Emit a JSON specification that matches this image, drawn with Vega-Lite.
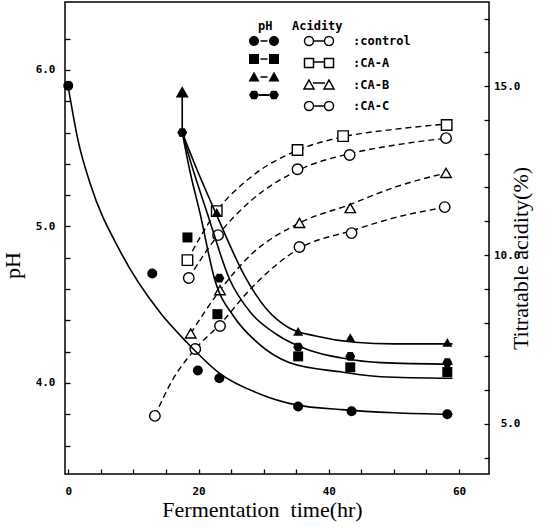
{
  "$schema": "https://vega.github.io/schema/vega-lite/v6.json",
  "autosize": {"type": "none"},
  "width": 424,
  "height": 472,
  "padding": {"left": 65, "top": 2, "right": 57, "bottom": 53},
  "background": "white",
  "config": {
    "view": {"stroke": "black", "strokeWidth": 1.5},
    "axis": {
      "grid": false, "domain": false, "offset": -5, "tickSize": 5,
      "tickColor": "black", "tickWidth": 1.3,
      "labelColor": "black", "labelFont": "DejaVu Sans Mono", "labelFontWeight": "bold", "labelFontSize": 11,
      "titleColor": "black", "titleFont": "Liberation Serif", "titleFontWeight": "normal", "titleFontSize": 22
    },
    "legend": {
      "titleFont": "DejaVu Sans Mono", "titleFontWeight": "bold", "titleFontSize": 12, "titleColor": "black",
      "labelFont": "DejaVu Sans Mono", "labelFontWeight": "bold", "labelFontSize": 12, "labelColor": "black",
      "padding": 0, "rowPadding": 6, "titlePadding": 2, "symbolSize": 100
    }
  },
  "datasets": {
    "phpts": [
      {"t": 0, "ph": 5.9, "s": "control"},
      {"t": 12.9, "ph": 4.70, "s": "control"},
      {"t": 19.9, "ph": 4.08, "s": "control"},
      {"t": 23.2, "ph": 4.03, "s": "control"},
      {"t": 35.3, "ph": 3.85, "s": "control"},
      {"t": 43.5, "ph": 3.82, "s": "control"},
      {"t": 58.2, "ph": 3.80, "s": "control"},
      {"t": 18.3, "ph": 4.93, "s": "CA-A"},
      {"t": 22.9, "ph": 4.44, "s": "CA-A"},
      {"t": 35.3, "ph": 4.17, "s": "CA-A"},
      {"t": 43.3, "ph": 4.10, "s": "CA-A"},
      {"t": 58.2, "ph": 4.07, "s": "CA-A"},
      {"t": 22.8, "ph": 5.09, "s": "CA-B"},
      {"t": 35.3, "ph": 4.33, "s": "CA-B"},
      {"t": 43.3, "ph": 4.29, "s": "CA-B"},
      {"t": 58.2, "ph": 4.26, "s": "CA-B"},
      {"t": 17.5, "ph": 5.60, "s": "CA-C"},
      {"t": 23.2, "ph": 4.67, "s": "CA-C"},
      {"t": 35.3, "ph": 4.23, "s": "CA-C"},
      {"t": 43.3, "ph": 4.17, "s": "CA-C"},
      {"t": 58.2, "ph": 4.13, "s": "CA-C"}
    ],
    "phcurves": [
      {"t": 0, "ph": 5.89, "s": "control"},
      {"t": 1.5, "ph": 5.55, "s": "control"},
      {"t": 3.4, "ph": 5.27, "s": "control"},
      {"t": 8, "ph": 4.84, "s": "control"},
      {"t": 14.1, "ph": 4.45, "s": "control"},
      {"t": 18.2, "ph": 4.26, "s": "control"},
      {"t": 23.3, "ph": 4.06, "s": "control"},
      {"t": 29.4, "ph": 3.93, "s": "control"},
      {"t": 35, "ph": 3.86, "s": "control"},
      {"t": 42, "ph": 3.83, "s": "control"},
      {"t": 50, "ph": 3.81, "s": "control"},
      {"t": 59, "ph": 3.80, "s": "control"},
      {"t": 17.5, "ph": 5.60, "s": "CA-A"},
      {"t": 18.7, "ph": 5.35, "s": "CA-A"},
      {"t": 20.2, "ph": 5.09, "s": "CA-A"},
      {"t": 22.5, "ph": 4.66, "s": "CA-A"},
      {"t": 25.5, "ph": 4.42, "s": "CA-A"},
      {"t": 29, "ph": 4.26, "s": "CA-A"},
      {"t": 34, "ph": 4.13, "s": "CA-A"},
      {"t": 42, "ph": 4.07, "s": "CA-A"},
      {"t": 48, "ph": 4.04, "s": "CA-A"},
      {"t": 59, "ph": 4.03, "s": "CA-A"},
      {"t": 17.5, "ph": 5.60, "s": "CA-C"},
      {"t": 19.1, "ph": 5.37, "s": "CA-C"},
      {"t": 21.3, "ph": 5.09, "s": "CA-C"},
      {"t": 24.8, "ph": 4.66, "s": "CA-C"},
      {"t": 28, "ph": 4.45, "s": "CA-C"},
      {"t": 32, "ph": 4.31, "s": "CA-C"},
      {"t": 37, "ph": 4.21, "s": "CA-C"},
      {"t": 42, "ph": 4.16, "s": "CA-C"},
      {"t": 48, "ph": 4.13, "s": "CA-C"},
      {"t": 59, "ph": 4.12, "s": "CA-C"},
      {"t": 17.5, "ph": 5.60, "s": "CA-B"},
      {"t": 19.6, "ph": 5.38, "s": "CA-B"},
      {"t": 22.6, "ph": 5.09, "s": "CA-B"},
      {"t": 27.4, "ph": 4.66, "s": "CA-B"},
      {"t": 30.5, "ph": 4.47, "s": "CA-B"},
      {"t": 34, "ph": 4.35, "s": "CA-B"},
      {"t": 38, "ph": 4.30, "s": "CA-B"},
      {"t": 44, "ph": 4.26, "s": "CA-B"},
      {"t": 50, "ph": 4.25, "s": "CA-B"},
      {"t": 59, "ph": 4.25, "s": "CA-B"}
    ],
    "arrow": [
      {"t": 17.5, "ph": 5.60, "ph2": 5.84}
    ],
    "arrowhead": [
      {"t": 17.5, "ph": 5.86}
    ],
    "acpts": [
      {"t": 13.3, "ac": 5.24, "s": "control"},
      {"t": 19.5, "ac": 7.22, "s": "control"},
      {"t": 23.3, "ac": 7.90, "s": "control"},
      {"t": 35.5, "ac": 10.24, "s": "control"},
      {"t": 43.5, "ac": 10.65, "s": "control"},
      {"t": 57.8, "ac": 11.42, "s": "control"},
      {"t": 18.3, "ac": 9.85, "s": "CA-A"},
      {"t": 22.8, "ac": 11.30, "s": "CA-A"},
      {"t": 35.2, "ac": 13.11, "s": "CA-A"},
      {"t": 42.2, "ac": 13.52, "s": "CA-A"},
      {"t": 58.1, "ac": 13.85, "s": "CA-A"},
      {"t": 18.8, "ac": 7.68, "s": "CA-B"},
      {"t": 23.3, "ac": 8.96, "s": "CA-B"},
      {"t": 35.5, "ac": 10.95, "s": "CA-B"},
      {"t": 43.3, "ac": 11.39, "s": "CA-B"},
      {"t": 58.0, "ac": 12.43, "s": "CA-B"},
      {"t": 18.5, "ac": 9.32, "s": "CA-C"},
      {"t": 23.0, "ac": 10.59, "s": "CA-C"},
      {"t": 35.2, "ac": 12.54, "s": "CA-C"},
      {"t": 43.2, "ac": 12.96, "s": "CA-C"},
      {"t": 58.0, "ac": 13.46, "s": "CA-C"}
    ],
    "accurves": [
      {"t": 13.3, "ac": 5.24, "s": "control"},
      {"t": 16, "ac": 6.3, "s": "control"},
      {"t": 19.5, "ac": 7.22, "s": "control"},
      {"t": 23.3, "ac": 7.95, "s": "control"},
      {"t": 28, "ac": 9.0, "s": "control"},
      {"t": 35.5, "ac": 10.2, "s": "control"},
      {"t": 43.5, "ac": 10.72, "s": "control"},
      {"t": 50, "ac": 11.1, "s": "control"},
      {"t": 58, "ac": 11.42, "s": "control"},
      {"t": 18.8, "ac": 7.68, "s": "CA-B"},
      {"t": 23.3, "ac": 8.96, "s": "CA-B"},
      {"t": 28, "ac": 10.0, "s": "CA-B"},
      {"t": 35.5, "ac": 10.95, "s": "CA-B"},
      {"t": 43.3, "ac": 11.5, "s": "CA-B"},
      {"t": 50, "ac": 12.0, "s": "CA-B"},
      {"t": 58, "ac": 12.43, "s": "CA-B"},
      {"t": 18.5, "ac": 9.32, "s": "CA-C"},
      {"t": 23, "ac": 10.59, "s": "CA-C"},
      {"t": 28, "ac": 11.6, "s": "CA-C"},
      {"t": 35.2, "ac": 12.5, "s": "CA-C"},
      {"t": 43.2, "ac": 13.0, "s": "CA-C"},
      {"t": 50, "ac": 13.25, "s": "CA-C"},
      {"t": 58, "ac": 13.46, "s": "CA-C"},
      {"t": 18.3, "ac": 9.85, "s": "CA-A"},
      {"t": 22.8, "ac": 11.3, "s": "CA-A"},
      {"t": 28, "ac": 12.3, "s": "CA-A"},
      {"t": 35.2, "ac": 13.1, "s": "CA-A"},
      {"t": 42.2, "ac": 13.5, "s": "CA-A"},
      {"t": 50, "ac": 13.72, "s": "CA-A"},
      {"t": 58.1, "ac": 13.88, "s": "CA-A"}
    ],
    "series": [
      {"s": "control"}, {"s": "CA-A"}, {"s": "CA-B"}, {"s": "CA-C"}
    ]
  },
  "encoding": {
    "x": {
      "field": "t", "type": "quantitative",
      "scale": {"domain": [-0.5, 64.6], "nice": false, "zero": false},
      "axis": {
        "title": "Fermentation\u00a0 time(hr)",
        "values": [0, 5, 10, 15, 20, 25, 30, 35, 40, 45, 50, 55, 60],
        "labelExpr": "datum.value % 20 === 0 ? datum.label : ''",
        "labelPadding": 11,
        "titleX": 197, "titleY": 40, "titleAlign": "center", "titleBaseline": "middle"
      }
    }
  },
  "layer": [
    {
      "encoding": {
        "y": {
          "field": "ac", "type": "quantitative",
          "scale": {"domain": [3.52, 17.49], "nice": false, "zero": false},
          "axis": {
            "orient": "right", "title": "Titratable acidity(%)",
            "values": [4, 5, 6, 7, 8, 9, 10, 11, 12, 13, 14, 15, 16, 17],
            "labelExpr": "datum.value % 5 === 0 ? format(datum.value, '.1f') : ''",
            "labelPadding": 31, "labelAlign": "right",
            "titleAngle": -90, "titleX": 48, "titleY": 256, "titleAlign": "center", "titleBaseline": "bottom"
          }
        }
      },
      "layer": [
        {
          "data": {"name": "accurves"},
          "mark": {"type": "line", "color": "black", "strokeWidth": 1.4, "strokeDash": [6, 4], "interpolate": "monotone"},
          "encoding": {"detail": {"field": "s", "type": "nominal"}}
        },
        {
          "data": {"name": "acpts"},
          "mark": {"type": "point", "filled": true, "fill": "white", "stroke": "black", "strokeWidth": 1.4, "size": 110, "opacity": 1},
          "encoding": {
            "shape": {
              "field": "s", "type": "nominal",
              "scale": {"domain": ["control", "CA-A", "CA-B", "CA-C"], "range": ["circle", "square", "triangle-up", "circle"]},
              "legend": null
            }
          }
        },
        {
          "data": {"name": "series"},
          "mark": {"type": "point", "filled": true, "fill": "white", "stroke": "black", "strokeWidth": 1.4, "opacity": 0},
          "encoding": {
            "shape": {
              "field": "s", "type": "nominal",
              "scale": {
                "domain": ["control", "CA-A", "CA-B", "CA-C"],
                "range": [
                  "M1.3,0a0.9,0.9 0 1,0 1.8,0a0.9,0.9 0 1,0 -1.8,0Z M5.3,0a0.9,0.9 0 1,0 1.8,0a0.9,0.9 0 1,0 -1.8,0Z M3.1,0H5.3",
                  "M1.3,-0.9H3.1V0.9H1.3Z M5.3,-0.9H7.1V0.9H5.3Z M3.1,-0.2H5.3",
                  "M2.2,-1L3.2,0.8H1.2Z M6.2,-1L7.2,0.8H5.2Z M3.0,-0.4H5.4",
                  "M1.3,0a0.9,0.9 0 1,0 1.8,0a0.9,0.9 0 1,0 -1.8,0Z M5.3,0a0.9,0.9 0 1,0 1.8,0a0.9,0.9 0 1,0 -1.8,0Z M3.1,0H5.3"
                ]
              },
              "legend": {
                "title": "Acidity", "orient": "none", "legendX": 227, "legendY": 19,
                "labelExpr": "':' + datum.label", "labelOffset": 49
              }
            }
          }
        }
      ],
      "resolve": {"scale": {"shape": "independent"}}
    },
    {
      "encoding": {
        "y": {
          "field": "ph", "type": "quantitative",
          "scale": {"domain": [3.4185, 6.4345], "nice": false, "zero": false},
          "axis": {
            "orient": "left", "title": "pH",
            "values": [3.6, 3.8, 4, 4.2, 4.4, 4.6, 4.8, 5, 5.2, 5.4, 5.6, 5.8, 6, 6.2],
            "labelExpr": "datum.value % 1 === 0 ? format(datum.value, '.1f') : ''",
            "labelPadding": 10,
            "titleAngle": -90, "titleX": -46, "titleY": 263, "titleAlign": "center", "titleBaseline": "bottom"
          }
        }
      },
      "layer": [
        {
          "data": {"name": "phcurves"},
          "mark": {"type": "line", "color": "black", "strokeWidth": 1.6, "interpolate": "monotone"},
          "encoding": {"detail": {"field": "s", "type": "nominal"}}
        },
        {
          "data": {"name": "arrow"},
          "mark": {"type": "rule", "color": "black", "strokeWidth": 1.6},
          "encoding": {"y2": {"field": "ph2"}}
        },
        {
          "data": {"name": "arrowhead"},
          "mark": {"type": "point", "shape": "triangle-up", "filled": true, "color": "black", "size": 170, "opacity": 1},
          "encoding": {}
        },
        {
          "data": {"name": "phpts"},
          "mark": {"type": "point", "filled": true, "color": "black", "size": 100, "opacity": 1},
          "encoding": {
            "shape": {
              "field": "s", "type": "nominal",
              "scale": {"domain": ["control", "CA-A", "CA-B", "CA-C"], "range": ["circle", "square", "triangle-up", "M1,0L0.5,0.87L-0.5,0.87L-1,0L-0.5,-0.87L0.5,-0.87Z"]},
              "legend": null
            }
          }
        },
        {
          "data": {"name": "series"},
          "mark": {"type": "point", "filled": true, "color": "black", "opacity": 0, "strokeWidth": 0},
          "encoding": {
            "shape": {
              "field": "s", "type": "nominal",
              "scale": {
                "domain": ["control", "CA-A", "CA-B", "CA-C"],
                "range": [
                  "M-3,0a1,1 0 1,0 2,0a1,1 0 1,0 -2,0Z M1,0a1,1 0 1,0 2,0a1,1 0 1,0 -2,0Z M-0.7,-0.15H0.7V0.15H-0.7Z",
                  "M-3,-1H-1V1H-3Z M1,-1H3V1H1Z M-0.7,-0.15H0.7V0.15H-0.7Z",
                  "M-2,-1.1L-0.9,0.9H-3.1Z M2,-1.1L3.1,0.9H0.9Z M-0.7,-0.15H0.7V0.15H-0.7Z",
                  "M-1,0L-1.5,0.87L-2.5,0.87L-3,0L-2.5,-0.87L-1.5,-0.87Z M3,0L2.5,0.87L1.5,0.87L1,0L1.5,-0.87L2.5,-0.87Z M-1,-0.2H1V0.2H-1Z"
                ]
              },
              "legend": {
                "title": "pH", "orient": "none", "legendX": 193, "legendY": 19,
                "labelExpr": "''", "symbolStrokeWidth": 0
              }
            }
          }
        }
      ],
      "resolve": {"scale": {"shape": "independent"}}
    }
  ],
  "resolve": {"scale": {"y": "independent", "shape": "independent"}}
}
